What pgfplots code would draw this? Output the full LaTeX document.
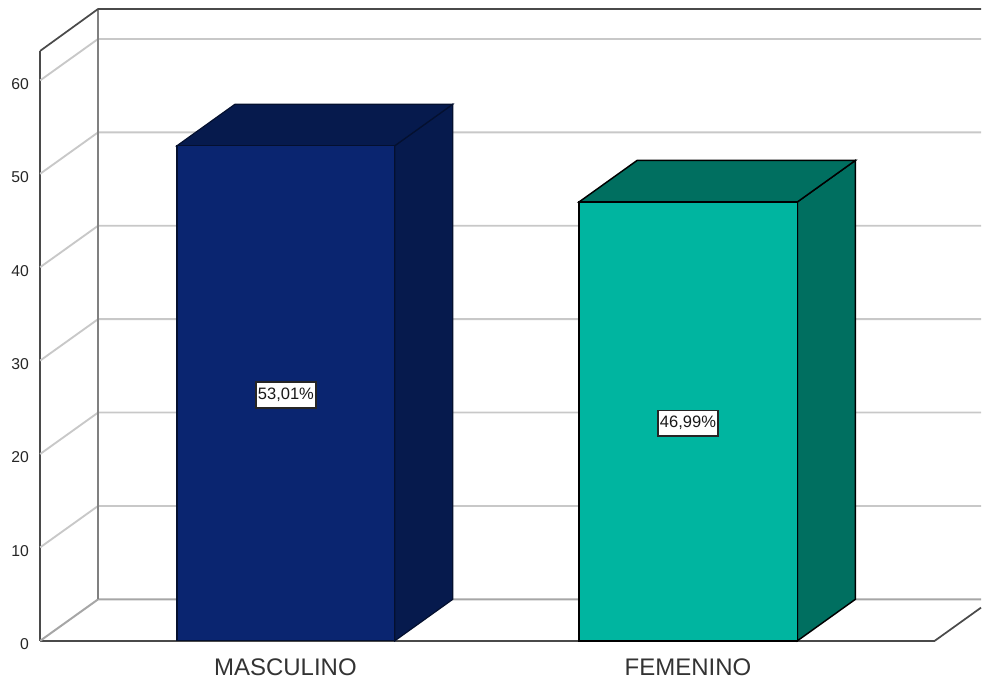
\documentclass[border=0pt]{standalone}
\usepackage{fontspec}
\setmainfont{Liberation Sans}
\usepackage{pgfplots}
\pgfplotsset{compat=1.18}
\definecolor{navyface}{HTML}{0A2570}
\definecolor{navyside}{HTML}{061A4D}
\definecolor{navyedge}{HTML}{04102F}
\definecolor{tealface}{HTML}{00B5A0}
\definecolor{tealside}{HTML}{006F60}
\definecolor{gridgray}{HTML}{C8C8C8}
\definecolor{wallgray}{HTML}{808080}
\definecolor{edgegray}{HTML}{4A4A4A}
\begin{document}
\begin{tikzpicture}
\begin{axis}[
  scale only axis,
  width=671.625pt, height=442.875pt,
  xmin=39.5, xmax=935, ymin=0, ymax=63.16,
  clip=false,
  axis x line=bottom, axis y line=left,
  axis line style={-, edgegray, line width=1.3pt},
  tick style={draw=none},
  major tick length=0pt,
  ytick={0,10,20,30,40,50,60},
  xtick={285,688},
  xticklabels={MASCULINO,FEMENINO},
  /pgf/number format/assume math mode=true,
  yticklabel style={font=\fontsize{11.8}{13}\selectfont, text=black!85, anchor=east, xshift=-5pt, yshift=-2.6pt},
  xticklabel style={font=\fontsize{18}{20}\selectfont, text=black!80, anchor=base, yshift=-26pt},
]
% picture frame
\path (axis cs:-0.7,-4.22) rectangle (axis cs:981.3,68.61);

% gridlines on the side wall and the back wall
\addplot[gridgray, line width=1.4pt, forget plot] coordinates {(39.5,10) (97.5,14.44) (981.3,14.44)};
\addplot[gridgray, line width=1.4pt, forget plot] coordinates {(39.5,20) (97.5,24.44) (981.3,24.44)};
\addplot[gridgray, line width=1.4pt, forget plot] coordinates {(39.5,30) (97.5,34.44) (981.3,34.44)};
\addplot[gridgray, line width=1.4pt, forget plot] coordinates {(39.5,40) (97.5,44.44) (981.3,44.44)};
\addplot[gridgray, line width=1.4pt, forget plot] coordinates {(39.5,50) (97.5,54.44) (981.3,54.44)};
\addplot[gridgray, line width=1.4pt, forget plot] coordinates {(39.5,60) (97.5,64.44) (981.3,64.44)};

% floor and wall edges
\addplot[wallgray!70, line width=1.5pt, forget plot] coordinates {(39.5,0) (97.5,4.44) (981.3,4.44)};
\addplot[wallgray, line width=1.5pt, forget plot] coordinates {(97.5,4.44) (97.5,67.65)};
\addplot[edgegray, line width=1.3pt, forget plot] coordinates {(39.5,63.16) (97.5,67.65) (981.3,67.65)};
\addplot[edgegray, line width=1.3pt, forget plot] coordinates {(935,0) (981.3,3.55)};

% MASCULINO: side and top faces, then the front bar
\addplot[draw=navyedge, line width=0.9pt, fill=navyside, forget plot] coordinates {(394.5,0) (452.5,4.44) (452.5,57.45) (394.5,53.01)} --cycle;
\addplot[draw=navyedge, line width=0.9pt, fill=navyside, forget plot] coordinates {(176.5,53.01) (234.5,57.45) (452.5,57.45) (394.5,53.01)} --cycle;
\addplot[ybar, bar width=218, bar shift=0pt, draw=navyedge, line width=0.9pt, fill=navyface, forget plot] coordinates {(285.5,53.01)};

% FEMENINO: side and top faces, then the front bar
\addplot[draw=black, line width=1.1pt, fill=tealside, forget plot] coordinates {(797.5,0) (855.5,4.44) (855.5,51.43) (797.5,46.99)} --cycle;
\addplot[draw=black, line width=1.1pt, fill=tealside, forget plot] coordinates {(579,46.99) (637,51.43) (855.5,51.43) (797.5,46.99)} --cycle;
\addplot[ybar, bar width=218.5, bar shift=0pt, draw=black, line width=1.1pt, fill=tealface, forget plot] coordinates {(688.25,46.99)};

% value labels at mid-height of each bar
\node[draw=black!85, line width=1.1pt, fill=white, font=\fontsize{12.4}{14}\selectfont, text=black!90,
      inner xsep=1.6pt, inner ysep=4.6pt] at (axis cs:285.5,26.3) {53,01\%};
\node[draw=black!85, line width=1.1pt, fill=white, font=\fontsize{12.4}{14}\selectfont, text=black!90,
      inner xsep=1.6pt, inner ysep=4.6pt] at (axis cs:688,23.3) {46,99\%};
\end{axis}
\end{tikzpicture}
\end{document}
